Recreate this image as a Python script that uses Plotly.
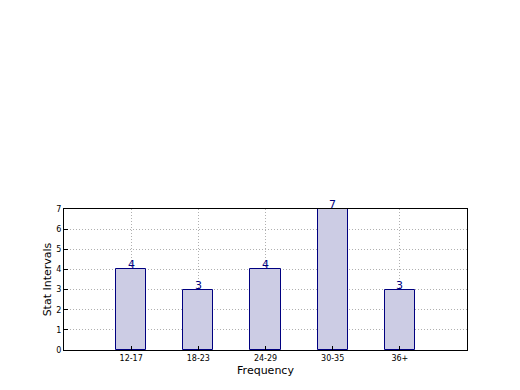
import plotly.graph_objects as go

categories = ["12-17", "18-23", "24-29", "30-35", "36+"]
values = [4, 3, 4, 7, 3]
y_ticks = [0, 1, 2, 3, 4, 5, 6, 7]

x_pos = list(range(len(categories)))

fig = go.Figure()
fig.add_trace(go.Bar(
    x=x_pos, y=values, width=0.45,
    marker=dict(color="rgb(204,204,228)", line=dict(color="#000080", width=1)),
))
for xp, v in zip(x_pos, values):
    fig.add_annotation(
        x=xp, y=v, text=str(v), showarrow=False, yanchor="bottom",
        yshift=-4, font=dict(color="#000080", size=11, family="DejaVu Sans"),
    )

fig.update_layout(
    width=520, height=390,
    margin=dict(l=56, r=61, t=201, b=48),
    plot_bgcolor="white", paper_bgcolor="white",
    showlegend=False,
    bargap=0,
    font=dict(family="DejaVu Sans", color="black"),
)
grid = dict(showgrid=True, gridcolor="#b0b0b0", griddash="1px,2px", gridwidth=1)
fig.update_xaxes(
    range=[-1, 5], tickvals=x_pos, ticktext=categories,
    tickfont=dict(size=8), ticks="inside", ticklen=4, tickcolor="black",
    showline=True, linecolor="black", linewidth=1, mirror=True,
    title=dict(text="Frequency", font=dict(size=11), standoff=4),
    zeroline=False, **grid,
)
fig.update_yaxes(
    range=[0, 7], tickvals=y_ticks, tickfont=dict(size=8),
    ticks="inside", ticklen=4, tickcolor="black",
    showline=True, linecolor="black", linewidth=1, mirror=True,
    title=dict(text="Stat Intervals", font=dict(size=11), standoff=2),
    zeroline=False, **grid,
)
fig.write_html("out.html")
